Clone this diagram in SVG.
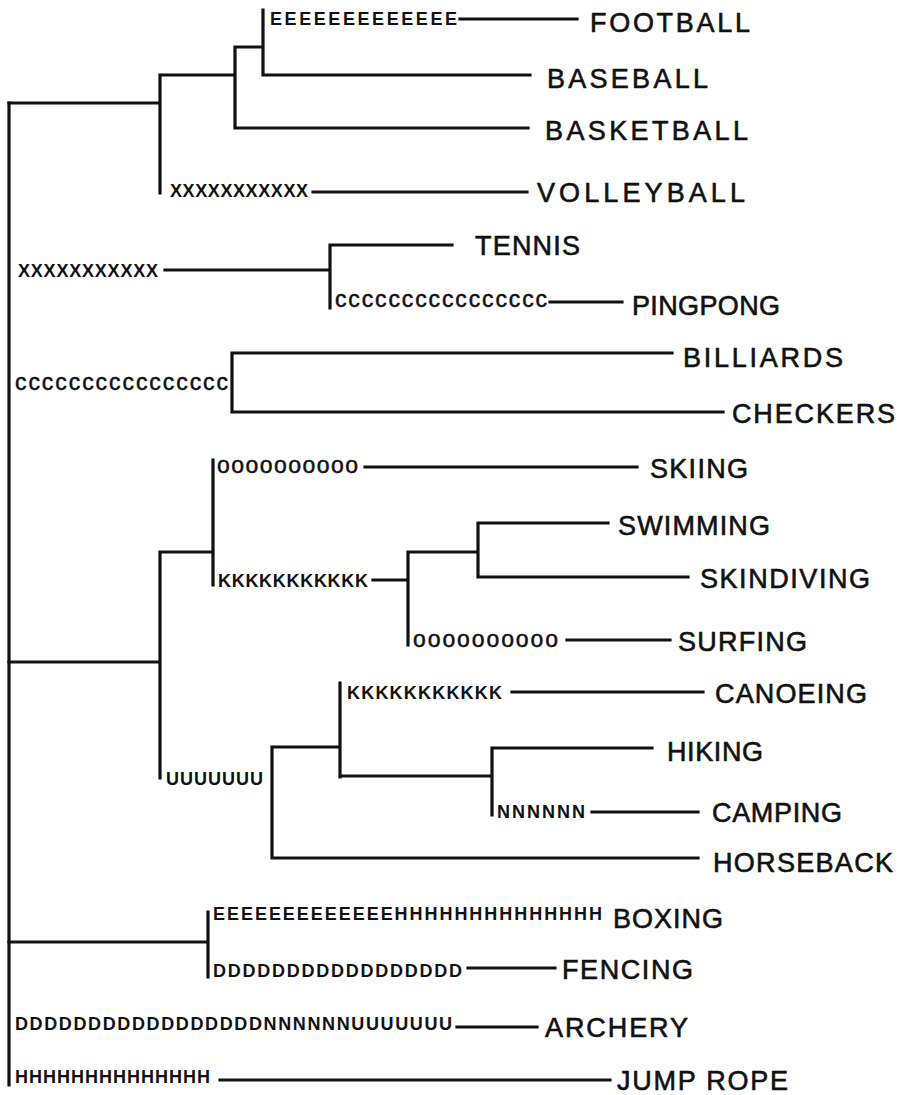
<svg xmlns="http://www.w3.org/2000/svg" width="903" height="1095" viewBox="0 0 903 1095">
<style>
.bg{fill:#fff}
.e{fill:none;stroke:#111;stroke-width:3.2;stroke-linecap:square}
.lbl{font-family:"Liberation Sans",Arial,sans-serif;font-size:27px;fill:#111;stroke:#111;stroke-width:0.6}
.cd{font-family:"Liberation Sans",Arial,sans-serif;font-size:18px;font-weight:bold;fill:#111}
.lc{font-family:"Liberation Sans",Arial,sans-serif;font-size:23px;fill:#111;stroke:#111;stroke-width:0.5}
</style>
<rect class="bg" x="0" y="0" width="903" height="1095"/>
<g id="connectors">
<path class="e" d="M9,103 V1085"/>
<path class="e" d="M9,103 H160 M160,75 V193 M160,75 H235 M235,47 V128 M235,47 H263 M263,10 V75 M263,75 H530 M235,128 H528"/>
<path class="e" d="M460,19 H577 M313,192 H527"/>
<path class="e" d="M165,270 H330 M330,245 V308 M330,245 H452 M550,302 H622"/>
<path class="e" d="M232,353 V412 M232,353 H672 M232,412 H723"/>
<path class="e" d="M9,662 H160 M160,552 V778 M160,552 H213 M213,460 V585 M365,467 H637"/>
<path class="e" d="M373,580 H408 M408,552 V645 M408,552 H478 M478,523 V577 M478,523 H608 M478,577 H688 M567,640 H670"/>
<path class="e" d="M272,747 V858 M272,747 H340 M340,683 V777 M512,692 H703 M340,776 H492 M492,748 V815 M492,748 H652 M592,812 H698 M272,858 H698"/>
<path class="e" d="M9,942 H208 M208,912 V977 M468,968 H555 M457,1027 H537 M220,1080 H610"/>
</g>
<g id="codes">
<text id="code-football" class="cd" x="270" y="25" textLength="187" lengthAdjust="spacing">EEEEEEEEEEEEE</text>
<text id="code-volleyball" class="cd" x="170" y="197" textLength="138" lengthAdjust="spacing">XXXXXXXXXXX</text>
<text id="code-x" class="cd" x="18" y="277" textLength="140" lengthAdjust="spacing">XXXXXXXXXXX</text>
<text id="code-pingpong" class="lc" x="335" y="307" textLength="212" lengthAdjust="spacing">cccccccccccccccc</text>
<text id="code-c" class="lc" x="15" y="390" textLength="213" lengthAdjust="spacing">cccccccccccccccc</text>
<text id="code-skiing" class="lc" x="217" y="473" textLength="141" lengthAdjust="spacing">oooooooooo</text>
<text id="code-k1" class="cd" x="218" y="587" textLength="150" lengthAdjust="spacing">KKKKKKKKKKK</text>
<text id="code-surfing" class="lc" x="413" y="647" textLength="145" lengthAdjust="spacing">oooooooooo</text>
<text id="code-u" class="cd" x="166" y="785" textLength="97" lengthAdjust="spacing">UUUUUUU</text>
<text id="code-canoeing" class="cd" x="347" y="699" textLength="155" lengthAdjust="spacing">KKKKKKKKKKK</text>
<text id="code-camping" class="cd" x="497" y="818" textLength="88" lengthAdjust="spacing">NNNNNN</text>
<text id="code-boxing" class="cd" x="213" y="920" textLength="389" lengthAdjust="spacing">EEEEEEEEEEEEEHHHHHHHHHHHHHH</text>
<text id="code-fencing" class="cd" x="213" y="977" textLength="249" lengthAdjust="spacing">DDDDDDDDDDDDDDDDD</text>
<text id="code-archery" class="cd" x="15" y="1030" textLength="437" lengthAdjust="spacing">DDDDDDDDDDDDDDDDDNNNNNNUUUUUUU</text>
<text id="code-jumprope" class="cd" x="15" y="1083" textLength="195" lengthAdjust="spacing">HHHHHHHHHHHHHH</text>
</g>
<g id="football"><text class="lbl" x="590" y="32" textLength="160" lengthAdjust="spacing">FOOTBALL</text></g>
<g id="baseball"><text class="lbl" x="547" y="88" textLength="161" lengthAdjust="spacing">BASEBALL</text></g>
<g id="basketball"><text class="lbl" x="545" y="140" textLength="203" lengthAdjust="spacing">BASKETBALL</text></g>
<g id="volleyball"><text class="lbl" x="537" y="202" textLength="208" lengthAdjust="spacing">VOLLEYBALL</text></g>
<g id="tennis"><text class="lbl" x="475" y="255" textLength="105" lengthAdjust="spacing">TENNIS</text></g>
<g id="pingpong"><text class="lbl" x="632" y="315" textLength="148" lengthAdjust="spacing">PINGPONG</text></g>
<g id="billiards"><text class="lbl" x="683" y="367" textLength="160" lengthAdjust="spacing">BILLIARDS</text></g>
<g id="checkers"><text class="lbl" x="732" y="423" textLength="163" lengthAdjust="spacing">CHECKERS</text></g>
<g id="skiing"><text class="lbl" x="650" y="478" textLength="98" lengthAdjust="spacing">SKIING</text></g>
<g id="swimming"><text class="lbl" x="618" y="535" textLength="152" lengthAdjust="spacing">SWIMMING</text></g>
<g id="skindiving"><text class="lbl" x="700" y="588" textLength="170" lengthAdjust="spacing">SKINDIVING</text></g>
<g id="surfing"><text class="lbl" x="678" y="651" textLength="129" lengthAdjust="spacing">SURFING</text></g>
<g id="canoeing"><text class="lbl" x="715" y="703" textLength="152" lengthAdjust="spacing">CANOEING</text></g>
<g id="hiking"><text class="lbl" x="667" y="761" textLength="96" lengthAdjust="spacing">HIKING</text></g>
<g id="camping"><text class="lbl" x="712" y="822" textLength="130" lengthAdjust="spacing">CAMPING</text></g>
<g id="horseback"><text class="lbl" x="713" y="872" textLength="180" lengthAdjust="spacing">HORSEBACK</text></g>
<g id="boxing"><text class="lbl" x="613" y="928" textLength="110" lengthAdjust="spacing">BOXING</text></g>
<g id="fencing"><text class="lbl" x="562" y="979" textLength="131" lengthAdjust="spacing">FENCING</text></g>
<g id="archery"><text class="lbl" x="545" y="1037" textLength="143" lengthAdjust="spacing">ARCHERY</text></g>
<g id="jumprope"><text class="lbl" x="617" y="1090" textLength="171" lengthAdjust="spacing">JUMP ROPE</text></g>
</svg>
